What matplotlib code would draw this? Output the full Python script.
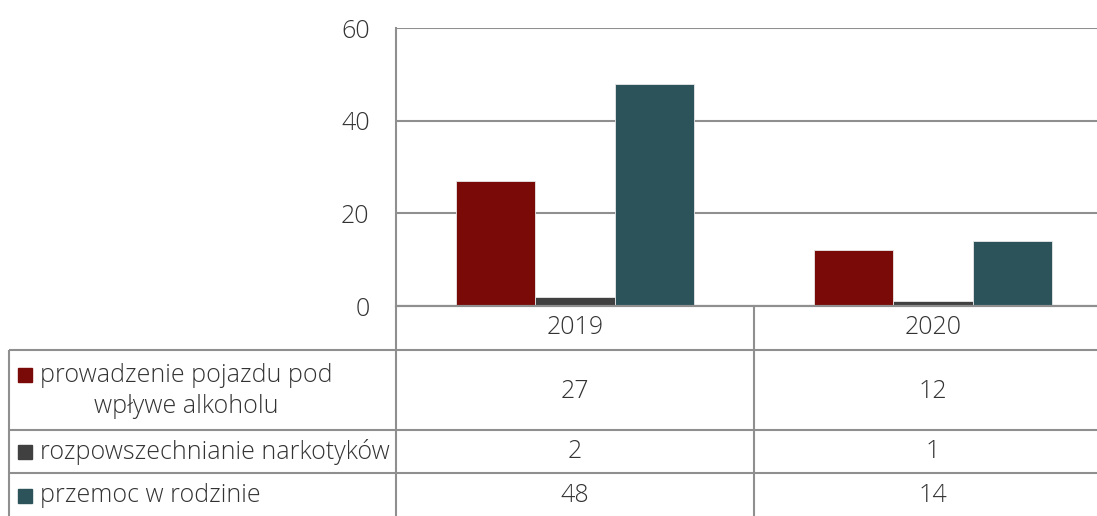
import matplotlib
matplotlib.use("Agg")
import matplotlib.pyplot as plt
import numpy as np

categories = ["2019", "2020"]
series_names = ["prowadzenie pojazdu pod\nwpływe alkoholu",
                "rozpowszechnianie narkotyków",
                "przemoc w rodzinie"]
series_values = [[27, 12], [2, 1], [48, 14]]
colors = ["#7a0a07", "#404040", "#2d535a"]
yticks = [0, 20, 40, 60]

W, H = 1097, 516
plt.rcParams['font.family'] = ['Open Sans', 'DejaVu Sans']
TXT = "#333333"
GRID = "#8f8f8f"
FS = 18

fig = plt.figure(figsize=(W / 100, H / 100), dpi=100)

# main axes
x_left, x_right_full = 396, 1112
y0_px, y60_px = 306, 28
ax = fig.add_axes([x_left / W, (H - y0_px) / H, (W - x_left) / W, (y0_px - y60_px) / H])
ncat = len(categories)
xmax = -0.5 + ncat * (W - x_left) / (x_right_full - x_left)
ax.set_xlim(-0.5, xmax)
ax.set_ylim(0, 60)

bw = 0.222
x = np.arange(ncat)
for i, (vals, c) in enumerate(zip(series_values, colors)):
    ax.bar(x + (i - 1) * bw, vals, width=bw, color=c, edgecolor="#e8e8e8",
           linewidth=0.6, zorder=3)

ax.set_yticks(yticks)
ax.set_yticklabels([str(t) for t in yticks], fontsize=FS, color=TXT, fontweight='light')
ax.tick_params(axis='y', length=0, pad=19)
ax.set_xticks([])
ax.grid(axis='y', color=GRID, linewidth=1.5, zorder=0)
for s in ["top", "right"]:
    ax.spines[s].set_visible(False)
for s in ["left", "bottom"]:
    ax.spines[s].set_color(GRID)
    ax.spines[s].set_linewidth(1.5)
ax.spines['bottom'].set_zorder(4)

# table overlay
ov = fig.add_axes([0, 0, 1, 1], facecolor="none")
ov.set_xlim(0, W)
ov.set_ylim(H, 0)
ov.axis("off")

col_edges = [x_left, 754, x_right_full]
row_edges = [306, 350, 430, 473, 516]
lk = dict(color=GRID, linewidth=1.5, solid_capstyle='butt')
ov.plot([x_left, W], [306, 306], **lk)
for yy in row_edges[1:4]:
    ov.plot([9, W], [yy, yy], **lk)
ov.plot([x_left, x_left], [y0_px, H], **lk)
ov.plot([754, 754], [y0_px, H], **lk)
ov.plot([9, 9], [350, H], **lk)

col_centers = [(col_edges[j] + col_edges[j + 1]) / 2 for j in range(ncat)]
for j, cat in enumerate(categories):
    ov.text(col_centers[j], 328, cat, ha="center", va="center", fontsize=FS,
            color=TXT, fontweight='light')

row_centers = [391, 452, 496]
for i, (name, vals, c) in enumerate(zip(series_names, series_values, colors)):
    yc = row_centers[i]
    ysq = 375 if i == 0 else yc
    ov.add_patch(plt.Rectangle((18, ysq - 7), 14, 14, color=c))
    if i == 0:
        ov.text(40, yc, name, ha="left", va="center", fontsize=FS, color=TXT,
                fontweight='light', multialignment='center', linespacing=1.3)
    else:
        ov.text(40, yc, name, ha="left", va="center", fontsize=FS, color=TXT,
                fontweight='light')
    for j, v in enumerate(vals):
        ov.text(col_centers[j], yc, str(v), ha="center", va="center", fontsize=FS,
                color=TXT, fontweight='light')

fig.savefig("out.png", dpi=100)
